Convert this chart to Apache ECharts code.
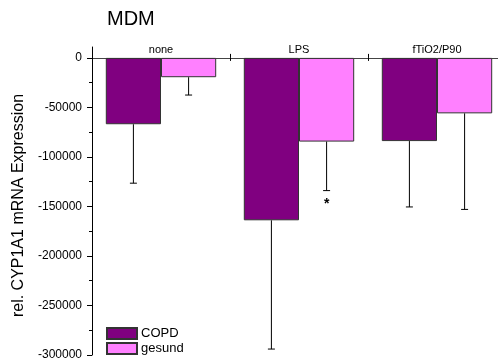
<!DOCTYPE html>
<html>
<head>
<meta charset="utf-8">
<script src="https://cdn.jsdelivr.net/npm/echarts@6/dist/echarts.min.js"></script>
<style>
  html, body { margin: 0; padding: 0; background: #fff; }
  #chart { width: 498px; height: 364px; }
</style>
</head>
<body>
<div id="chart"></div>
<script>
// Treatments and group means (relative CYP1A1 mRNA expression)
const categories = ['none', 'LPS', 'fTiO2/P90'];
const copdMeans = [-67000, -164000, -84000];
const copdErrors = [59500, 130000, 66500];
const gesundMeans = [-19500, -84500, -56000];
const gesundErrors = [18000, 49500, 97000];
const gesundMarks = ['', '*', ''];

// Axis ticks
const majorTicks = [0, -50000, -100000, -150000, -200000, -250000, -300000];
const minorTicks = [-25000, -75000, -125000, -175000, -225000, -275000];

const FONT = 'Liberation Sans, Arial, sans-serif';
const COPD_COLOR = '#800080';
const GESUND_COLOR = '#ff80ff';

function errorSeries(name, means, errors, side, marks) {
  return {
    name: name,
    type: 'custom',
    z: 5,
    silent: true,
    data: means.map((m, i) => [i, m, errors[i]]),
    renderItem: function (params, api) {
      const cat = api.value(0);
      const mean = api.value(1);
      const err = api.value(2);
      const mark = marks ? marks[cat] : '';
      const band = api.size([1, 0])[0];
      const top = api.coord([cat, mean]);
      const bot = api.coord([cat, mean - err]);
      const x = top[0] + side * band * 0.2;
      const st = { stroke: '#000', lineWidth: 1 };
      const children = [
        { type: 'line', shape: { x1: x, y1: top[1], x2: x, y2: bot[1] }, style: st },
        { type: 'line', shape: { x1: x - 3.5, y1: bot[1], x2: x + 3.5, y2: bot[1] }, style: st }
      ];
      if (mark) {
        children.push({
          type: 'text',
          style: {
            text: mark, x: x, y: bot[1] + 14,
            align: 'center', verticalAlign: 'middle',
            font: 'bold 14px ' + FONT, fill: '#000'
          }
        });
      }
      return { type: 'group', children: children };
    }
  };
}

const chart = echarts.init(document.getElementById('chart'), null, { renderer: 'canvas' });
chart.setOption({
  animation: false,
  backgroundColor: '#fff',
  title: {
    text: 'MDM',
    left: 102, top: 4,
    textStyle: { fontFamily: FONT, fontSize: 20, fontWeight: 'normal', color: '#000' }
  },
  legend: {
    data: ['COPD', 'gesund'],
    orient: 'vertical',
    left: 106, top: 327,
    itemWidth: 30, itemHeight: 11, itemGap: 2,
    icon: 'rect',
    textStyle: { fontFamily: FONT, fontSize: 13, color: '#000', padding: [0, 0, 0, -1] },
    padding: 0
  },
  grid: { left: 92, width: 414, top: 47, bottom: 9, containLabel: false, outerBoundsMode: 'none' },
  xAxis: [
    {
      type: 'category',
      data: categories,
      position: 'top',
      axisLine: { onZero: true, lineStyle: { color: '#444', width: 1 } },
      axisTick: { show: true, length: 4, lineStyle: { color: '#000' } },
      axisLabel: { fontFamily: FONT, fontSize: 11, color: '#000', margin: -8 },
      splitLine: { show: false }
    },
    {
      type: 'category',
      data: categories,
      position: 'top',
      axisLine: { show: false, onZero: true },
      axisTick: { show: true, inside: true, length: 3, lineStyle: { color: '#000' } },
      axisLabel: { show: false },
      splitLine: { show: false }
    }
  ],
  yAxis: [
    {
      type: 'value',
      min: -300000, max: 11000, interval: 50000,
      name: 'rel. CYP1A1 mRNA Expression',
      nameLocation: 'middle',
      nameGap: 63,
      nameTextStyle: { fontFamily: FONT, fontSize: 16, color: '#000', padding: [0, 9, 0, 0] },
      axisLine: { show: true, lineStyle: { color: '#000', width: 1 } },
      axisTick: { show: true, length: 5, customValues: majorTicks, lineStyle: { color: '#000' } },
      axisLabel: {
        fontFamily: FONT, fontSize: 12, color: '#000', margin: 10,
        customValues: majorTicks,
        formatter: v => String(v)
      },
      splitLine: { show: false }
    },
    {
      type: 'value',
      min: -300000, max: 11000, interval: 50000,
      position: 'left',
      axisLine: { show: false },
      axisTick: { show: true, length: 3, customValues: minorTicks, lineStyle: { color: '#000' } },
      axisLabel: { show: false },
      splitLine: { show: false }
    }
  ],
  series: [
    {
      name: 'COPD', type: 'bar', data: copdMeans,
      barGap: 0, barCategoryGap: '20%',
      itemStyle: { color: COPD_COLOR, borderColor: '#333', borderWidth: 1 }
    },
    {
      name: 'gesund', type: 'bar', data: gesundMeans,
      barGap: 0, barCategoryGap: '20%',
      itemStyle: { color: GESUND_COLOR, borderColor: '#333', borderWidth: 1 }
    },
    errorSeries('COPD err', copdMeans, copdErrors, -1, null),
    errorSeries('gesund err', gesundMeans, gesundErrors, 1, gesundMarks)
  ]
});
</script>
</body>
</html>
